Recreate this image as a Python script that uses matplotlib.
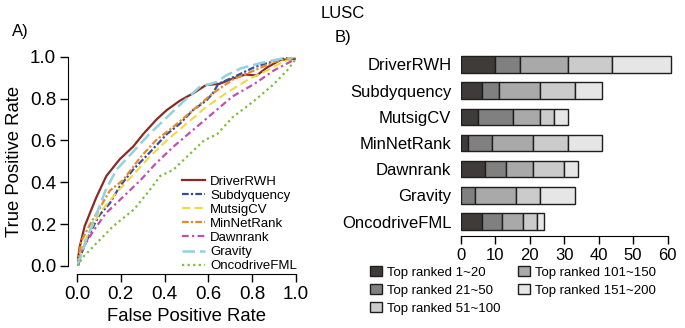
import matplotlib
matplotlib.use("Agg")
from matplotlib import pyplot as plt
from matplotlib.patches import Patch

plt.rcParams["font.family"] = ["Liberation Sans", "DejaVu Sans"]

# ROC curves (FPR, TPR)
METHODS = ["DriverRWH", "Subdyquency", "MutsigCV", "MinNetRank",
           "Dawnrank", "Gravity", "OncodriveFML"]

driverrwh_fpr = [0, 0.012, 0.035, 0.058, 0.089, 0.134, 0.195, 0.256, 0.302, 0.363,
                 0.41, 0.47, 0.53, 0.59, 0.65, 0.71, 0.77, 0.82, 0.87, 0.93, 1.0]
driverrwh_tpr = [0, 0.09, 0.19, 0.25, 0.33, 0.43, 0.51, 0.57, 0.63, 0.70,
                 0.745, 0.79, 0.825, 0.865, 0.87, 0.895, 0.915, 0.91, 0.95, 0.985, 0.99]

subdy_fpr = [0.005, 0.02, 0.06, 0.10, 0.15, 0.195, 0.256, 0.33, 0.41, 0.47,
             0.53, 0.59, 0.62, 0.645, 0.71, 0.81, 0.87, 0.94, 1.0]
subdy_tpr = [0, 0.06, 0.16, 0.24, 0.30, 0.38, 0.46, 0.54, 0.63, 0.68,
             0.745, 0.79, 0.825, 0.87, 0.90, 0.95, 0.97, 0.99, 1.0]

mutsig_fpr = [0, 0.02, 0.06, 0.10, 0.18, 0.26, 0.33, 0.41, 0.50, 0.59,
              0.68, 0.78, 0.87, 0.94, 1.0]
mutsig_tpr = [0, 0.09, 0.17, 0.25, 0.35, 0.44, 0.52, 0.60, 0.68, 0.76,
              0.825, 0.89, 0.935, 0.975, 1.0]

minnet_fpr = [0, 0.02, 0.06, 0.10, 0.15, 0.21, 0.29, 0.36, 0.44, 0.53,
              0.62, 0.71, 0.81, 0.90, 1.0]
minnet_tpr = [0, 0.12, 0.20, 0.27, 0.36, 0.41, 0.52, 0.60, 0.665, 0.745,
              0.825, 0.89, 0.935, 0.975, 1.0]

dawn_fpr = [0, 0.03, 0.07, 0.13, 0.21, 0.29, 0.36, 0.44, 0.53, 0.62,
            0.71, 0.81, 0.90, 1.0]
dawn_tpr = [0, 0.09, 0.16, 0.25, 0.33, 0.41, 0.49, 0.57, 0.65, 0.73,
            0.81, 0.87, 0.935, 0.99]

gravity_fpr = [0, 0.012, 0.04, 0.09, 0.13, 0.18, 0.26, 0.33, 0.41, 0.49,
               0.56, 0.64, 0.68, 0.75, 0.84, 0.93, 1.0]
gravity_tpr = [0, 0.03, 0.12, 0.25, 0.36, 0.46, 0.55, 0.63, 0.71, 0.79,
               0.855, 0.88, 0.91, 0.945, 0.97, 0.99, 1.0]

oncofml_fpr = [0, 0.03, 0.09, 0.165, 0.26, 0.33, 0.38, 0.44, 0.50, 0.58,
               0.64, 0.71, 0.81, 0.90, 0.96, 1.0]
oncofml_tpr = [0, 0.045, 0.11, 0.19, 0.27, 0.36, 0.43, 0.46, 0.52, 0.60,
               0.63, 0.71, 0.79, 0.87, 0.935, 0.99]

# stacked counts per rank bin (B panel)
RANK_BINS = ["Top ranked 1~20", "Top ranked 21~50", "Top ranked 51~100",
             "Top ranked 101~150", "Top ranked 151~200"]
top_1_20 = [10, 6, 5, 2, 7, 0, 6]
top_21_50 = [7, 5, 10, 7, 6, 4, 6]
top_51_100 = [14, 12, 8, 12, 8, 12, 6]
top_101_150 = [13, 10, 4, 10, 9, 7, 4]
top_151_200 = [17, 8, 4, 10, 4, 10, 2]

roc_data = [
    (driverrwh_fpr, driverrwh_tpr, "#8b2a22", "-", 1.6),
    (subdy_fpr, subdy_tpr, "#3c4a9e", (0, (3, 1, 1, 1)), 1.6),
    (mutsig_fpr, mutsig_tpr, "#f2d843", (0, (4, 2)), 1.5),
    (minnet_fpr, minnet_tpr, "#e38b2c", (0, (3, 1, 1, 1)), 1.6),
    (dawn_fpr, dawn_tpr, "#c24fae", (0, (3, 1.5, 1, 1.5)), 1.6),
    (gravity_fpr, gravity_tpr, "#8fd2e2", (0, (5, 2)), 1.8),
    (oncofml_fpr, oncofml_tpr, "#7cbf3f", (0, (1, 1.5)), 1.6),
]

fig = plt.figure(figsize=(6.85, 3.28), dpi=100)
fig.text(0.5, 0.96, "LUSC", ha="center", va="center", fontsize=12)
fig.text(0.018, 0.905, "A)", ha="left", va="center", fontsize=12)
fig.text(0.489, 0.885, "B)", ha="left", va="center", fontsize=12)

# A) ROC curves
ax = fig.add_axes([77 / 685, 62 / 328, 219 / 685, 209.3 / 328])
for (fpr, tpr, color, ls, lw), name in zip(roc_data, METHODS):
    ax.plot(fpr, tpr, color=color, linestyle=ls, linewidth=lw, label=name)
ax.set_xlim(0, 1)
ax.set_ylim(0, 1)
for side in ["top", "right"]:
    ax.spines[side].set_visible(False)
ax.spines["left"].set_position(("outward", 6.5))
ax.spines["bottom"].set_position(("outward", 5.8))
ax.spines["left"].set_bounds(0, 1)
ax.spines["bottom"].set_bounds(0, 1)
ticks = [0, 0.2, 0.4, 0.6, 0.8, 1.0]
ax.set_xticks(ticks, [f"{t:.1f}" for t in ticks])
ax.set_yticks(ticks, [f"{t:.1f}" for t in ticks])
ax.tick_params(labelsize=13.5, length=5.5, width=1, pad=3)
ax.set_xlabel("False Positive Rate", fontsize=13.3, labelpad=4)
ax.set_ylabel("True Positive Rate", fontsize=13.3, labelpad=5)
ax.legend(loc="lower left", bbox_to_anchor=(0.479, -0.03), frameon=False,
          fontsize=9.5, handlelength=1.75, handletextpad=0.4, labelspacing=0.14,
          borderpad=0, borderaxespad=0)

# B) stacked bars
bx = fig.add_axes([461 / 685, 92 / 328, 211.7 / 685, 186 / 328])
shades = ["#403b3b", "#808080", "#a9a9a9", "#cbcbcb", "#e6e6e6"]
segments = [top_1_20, top_21_50, top_51_100, top_101_150, top_151_200]
ypos = list(range(len(METHODS)))[::-1]
left = [0] * len(METHODS)
for seg, shade in zip(segments, shades):
    bx.barh(ypos, seg, left=left, height=0.62, color=shade,
            edgecolor="#1e1e1e", linewidth=1)
    left = [a + b for a, b in zip(left, seg)]
bx.set_yticks(ypos, METHODS, fontsize=12)
bx.tick_params(axis="y", length=0, pad=7)
bx.set_xlim(0, 61.5)
bx.set_ylim(-0.55, len(METHODS) - 0.45)
bx.set_xticks(range(0, 61, 10))
bx.tick_params(axis="x", labelsize=12, length=5.5, width=1, pad=3)
for side in ["top", "right", "left"]:
    bx.spines[side].set_visible(False)
bx.spines["bottom"].set_bounds(0, 60)

# legend swatches follow the original figure
legend_shades = ["#403b3b", "#808080", "#cbcbcb", "#a9a9a9", "#e6e6e6"]
handles = [Patch(facecolor=c, edgecolor="#1e1e1e", linewidth=1) for c in legend_shades]
leg_kw = dict(loc="upper left", frameon=False, fontsize=9.5, handlelength=0.9,
              handleheight=0.75, handletextpad=0.4, labelspacing=0.42,
              borderpad=0, borderaxespad=0)
fig.legend(handles[:3], RANK_BINS[:3], bbox_to_anchor=(370 / 685, 0.188), **leg_kw)
fig.legend(handles[3:], RANK_BINS[3:], bbox_to_anchor=(518 / 685, 0.188), **leg_kw)

fig.savefig("out.png", dpi=100)
